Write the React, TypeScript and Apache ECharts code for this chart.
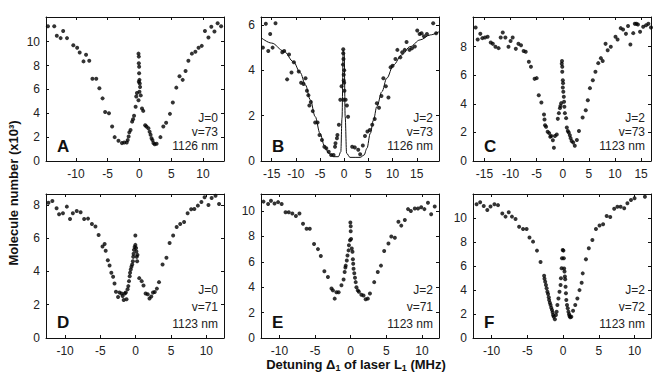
import React, { useEffect, useRef } from "react";
import * as echarts from "echarts";

// ---------- data (x = detuning MHz, y = molecule number x10^3) ----------
const dataA: number[][] = [
  [-14.4, 11.3], [-13.4, 11.3], [-13.0, 10.5], [-12.4, 10.3], [-12.0, 10.9], [-11.4, 10.3],
  [-10.4, 9.7], [-9.8, 9.5], [-9.4, 9.1], [-8.8, 8.35], [-8.4, 8.9], [-7.9, 8.4], [-7.4, 6.9],
  [-6.8, 6.9], [-6.3, 6.1], [-5.8, 5.25], [-5.4, 4.1], [-4.8, 4.0], [-4.3, 2.9], [-3.9, 2.0],
  [-3.3, 1.7], [-2.75, 1.5], [-2.4, 1.55], [-2.0, 1.55], [-1.85, 1.75], [-1.7, 2.05], [-1.6, 2.4],
  [-1.4, 2.6], [-1.15, 3.3], [-1.0, 3.5], [-0.85, 3.8], [-0.6, 4.55], [-0.5, 5.4], [-0.4, 5.7],
  [-0.15, 9.0], [-0.1, 8.75], [-0.1, 8.2], [-0.05, 7.9], [-0.05, 7.35], [0, 6.8], [-0.1, 6.65],
  [0.05, 6.5], [0.1, 6.2], [0, 5.8], [0.2, 5.5], [-0.15, 5.1], [0.4, 4.4], [0.6, 4.2], [0.9, 3.0],
  [1.1, 2.9], [1.4, 2.75], [1.6, 2.45], [1.75, 2.2], [1.9, 1.9], [2.05, 1.75], [2.2, 1.5],
  [2.4, 1.4], [2.7, 1.45], [3.3, 2.0], [3.75, 2.9], [4.2, 3.2], [4.8, 3.95], [5.25, 4.9],
  [5.8, 6.15], [6.3, 7.1], [6.8, 6.8], [7.25, 7.55], [7.7, 8.4], [8.25, 9.0], [8.8, 9.15],
  [9.3, 9.5], [9.8, 9.65], [10.3, 10.9], [10.85, 10.35], [11.3, 11.25], [11.8, 10.85],
  [12.3, 11.55], [12.85, 11.3],
];

const dataB: number[][] = [
  [-16.8, 5.0], [-16.2, 6.05], [-15.7, 4.85], [-15.3, 5.6], [-14.8, 5.0], [-14.2, 6.07],
  [-12.8, 4.8], [-12.4, 4.85], [-11.8, 3.6], [-11.4, 4.7], [-10.9, 3.9], [-10.4, 4.35],
  [-9.4, 3.95], [-8.9, 3.45], [-8.4, 3.4], [-8.0, 3.65], [-7.7, 3.1], [-7.4, 2.9], [-7.2, 2.45],
  [-6.9, 2.6], [-6.5, 2.2], [-6.0, 1.7], [-5.5, 1.7], [-5.1, 1.15], [-4.6, 0.93], [-4.1, 0.63],
  [-3.7, 0.56], [-3.2, 0.41], [-2.7, 0.26], [-2.2, 0.26], [-1.9, 0.63], [-1.8, 0.78],
  [-1.5, 1.0], [-1.4, 1.15], [-1.1, 1.6], [-0.8, 2.7], [-0.55, 3.3], [-0.2, 4.93], [-0.2, 4.75],
  [-0.15, 4.5], [-0.25, 4.25], [0, 4.0], [-0.1, 3.8], [-0.1, 3.55], [0, 3.45], [-0.1, 2.7],
  [0.05, 3.1], [0.3, 2.7], [0.55, 2.45], [0.8, 1.95], [1.65, 0.63], [2.2, 0.6], [2.9, 0.5],
  [3.3, 0.3], [3.85, 0.68], [4.3, 1.1], [4.8, 1.3], [5.3, 1.37], [5.8, 1.6], [6.3, 1.85],
  [6.75, 2.55], [7.2, 2.35], [7.7, 2.87], [8.1, 3.65], [8.6, 3.3], [9.15, 2.8], [9.6, 4.13],
  [10.0, 4.2], [10.6, 4.5], [11.0, 4.9], [11.6, 4.57], [12.0, 4.8], [12.5, 4.9], [12.9, 5.25],
  [13.5, 4.9], [14.0, 4.97], [14.6, 5.05], [15.1, 5.75], [15.6, 5.6], [16.0, 5.63], [16.5, 5.5],
  [17.1, 5.6], [18.4, 6.07], [19.0, 5.63],
];

const fitB: number[][] = [
  [-17.2, 5.44], [-15.0, 5.2], [-12.5, 4.85], [-10.5, 4.38], [-9.1, 3.9], [-8.0, 3.35],
  [-7.0, 2.7], [-6.0, 1.96], [-5.0, 1.22], [-4.1, 0.68], [-3.2, 0.34], [-2.2, 0.19],
  [-1.2, 0.19], [-0.7, 0.41], [-0.45, 1.9], [-0.2, 4.9], [0, 4.75], [0.2, 1.96], [0.5, 0.34],
  [1.2, 0.16], [3.3, 0.16], [4.1, 0.26], [4.7, 0.56], [5.4, 1.22], [6.05, 1.8], [6.75, 2.4],
  [7.8, 3.06], [8.8, 3.65], [10.2, 4.24], [11.9, 4.68], [13.6, 5.04], [15.7, 5.34],
  [17.8, 5.56], [19.6, 5.7],
];

const dataC: number[][] = [
  [-16.7, 9.35], [-16.3, 8.5], [-15.8, 8.9], [-15.4, 8.6], [-14.9, 8.65], [-14.4, 8.7],
  [-13.8, 8.3], [-13.4, 8.2], [-12.9, 8.0], [-12.3, 7.9], [-11.9, 8.65], [-11.5, 9.0],
  [-11.0, 8.65], [-10.4, 8.0], [-10.0, 8.4], [-9.6, 8.65], [-9.0, 7.85], [-8.5, 8.2],
  [-8.0, 8.1], [-7.5, 7.7], [-7.1, 7.65], [-6.5, 6.95], [-6.1, 6.6], [-5.4, 5.75], [-5.0, 5.8],
  [-4.6, 4.6], [-4.1, 4.1], [-3.6, 3.25], [-3.5, 2.9], [-3.4, 2.5], [-3.2, 2.4], [-2.9, 2.05],
  [-2.6, 1.95], [-2.4, 1.7], [-2.2, 1.75], [-1.9, 1.45], [-1.7, 0.93], [-1.5, 1.75],
  [-1.15, 1.85], [-0.95, 2.95], [-0.75, 3.35], [-0.55, 3.7], [-0.45, 3.85], [-0.3, 4.05],
  [-0.2, 6.8], [-0.15, 7.0], [-0.1, 6.6], [-0.1, 6.25], [0, 5.65], [0.05, 5.45], [0, 5.15],
  [0.1, 4.85], [0.2, 4.5], [0.25, 4.15], [0.3, 3.8], [0.4, 3.35], [0.64, 3.0], [0.77, 2.35],
  [0.96, 2.1], [1.15, 2.0], [1.35, 1.8], [1.5, 1.6], [1.7, 1.4], [2.0, 1.3], [2.3, 1.07],
  [2.7, 1.47], [3.1, 2.1], [3.8, 3.05], [4.4, 3.55], [4.8, 4.25], [5.2, 5.1], [5.75, 5.65],
  [6.25, 6.25], [6.8, 6.85], [7.3, 7.2], [7.65, 7.0], [8.2, 8.2], [8.6, 7.75], [9.2, 8.0],
  [10.1, 8.7], [10.5, 8.5], [11.1, 9.3], [11.55, 9.2], [12.1, 8.9], [12.5, 9.45], [12.95, 8.15],
  [13.5, 8.95], [13.8, 9.6], [14.1, 9.6], [14.4, 9.55], [14.8, 9.05], [15.4, 9.4], [15.95, 9.5],
  [16.4, 9.6], [16.9, 9.35],
];

const dataD: number[][] = [
  [-12.35, 8.14], [-11.8, 8.24], [-11.2, 7.8], [-10.85, 7.44], [-10.3, 7.5], [-9.75, 7.9],
  [-9.3, 7.16], [-8.9, 7.5], [-8.35, 7.64], [-7.8, 7.56], [-7.3, 7.16], [-6.75, 7.18],
  [-6.2, 6.85], [-5.7, 6.7], [-5.25, 6.2], [-4.7, 5.5], [-4.4, 5.65], [-4.25, 5.25],
  [-3.95, 4.68], [-3.7, 4.36], [-3.45, 3.92], [-3.2, 3.68], [-3.0, 3.28], [-2.8, 2.78],
  [-2.5, 2.47], [-2.3, 2.73], [-2.0, 2.67], [-1.85, 2.53], [-1.7, 2.29], [-1.55, 2.67],
  [-1.4, 2.73], [-1.3, 2.33], [-1.15, 2.93], [-1.05, 3.12], [-0.95, 3.42], [-0.85, 3.72],
  [-0.8, 3.92], [-0.7, 4.12], [-0.6, 4.28], [-0.5, 4.42], [-0.4, 4.62], [-0.35, 4.88],
  [-0.3, 5.07], [-0.25, 5.3], [-0.15, 5.47], [-0.05, 5.6], [-0.05, 6.17], [0.05, 5.41],
  [0.1, 5.2], [0.15, 4.88], [0.2, 4.62], [0.25, 5.0], [0.5, 3.6], [0.85, 3.42], [1.1, 3.16],
  [1.4, 2.67], [1.7, 2.63], [1.95, 2.37], [2.2, 2.49], [2.45, 2.73], [2.7, 2.77], [3.0, 2.97],
  [3.3, 3.36], [3.8, 4.42], [4.35, 4.82], [4.8, 5.71], [5.3, 6.17], [5.8, 6.67], [6.3, 6.85],
  [6.85, 6.97], [7.35, 7.5], [7.85, 7.74], [8.3, 7.76], [8.8, 7.96], [9.3, 8.18], [9.75, 8.46],
  [10.3, 8.0], [10.75, 8.42], [11.3, 8.56], [11.8, 8.06],
];

const dataE: number[][] = [
  [-12.25, 10.74], [-11.6, 10.55], [-11.2, 10.8], [-10.7, 10.6], [-10.2, 10.7], [-9.7, 10.55],
  [-9.15, 9.9], [-8.7, 9.9], [-8.2, 9.8], [-7.7, 9.6], [-7.2, 9.8], [-6.7, 9.0], [-6.2, 8.6],
  [-5.75, 8.6], [-5.15, 7.4], [-4.6, 7.0], [-4.2, 6.45], [-3.7, 5.25], [-3.2, 4.8], [-2.7, 3.9],
  [-2.5, 3.75], [-2.25, 3.1], [-2.0, 3.6], [-1.7, 3.6], [-1.3, 4.15], [-1.0, 4.6], [-0.85, 5.2],
  [-0.75, 5.55], [-0.7, 5.7], [-0.55, 6.1], [-0.45, 6.5], [-0.3, 6.9], [-0.25, 7.3],
  [-0.1, 7.7], [-0.05, 9.1], [0, 8.8], [0, 8.4], [0.05, 7.8], [0.15, 7.05], [0.25, 6.8],
  [0.3, 6.2], [0.35, 5.85], [0.4, 5.45], [0.5, 5.1], [0.6, 4.75], [0.7, 4.4], [0.8, 4.0],
  [1.0, 3.75], [1.15, 3.65], [1.5, 3.4], [1.8, 3.35], [2.1, 3.05], [2.4, 3.1], [2.7, 3.5],
  [3.3, 4.4], [3.8, 5.2], [4.25, 5.7], [4.7, 6.85], [5.3, 7.45], [5.7, 8.0], [6.2, 7.9],
  [6.7, 9.15], [7.1, 8.85], [7.6, 9.3], [8.05, 10.15], [8.45, 10.0], [9.0, 10.2], [9.45, 10.2],
  [9.9, 10.3], [10.35, 10.15], [10.85, 10.65], [11.3, 9.75], [11.8, 10.35],
];

const dataF: number[][] = [
  [-12.1, 11.17], [-11.6, 11.34], [-11.1, 11.03], [-10.6, 10.7], [-10.15, 10.98], [-9.6, 11.17],
  [-9.1, 11.1], [-8.5, 10.4], [-8.05, 10.14], [-7.6, 10.5], [-7.15, 10.14], [-6.65, 9.94],
  [-6.15, 9.3], [-5.6, 9.1], [-5.1, 9.1], [-4.7, 8.4], [-4.2, 8.05], [-3.65, 7.3], [-3.15, 6.35],
  [-2.65, 5.2], [-2.6, 4.95], [-2.5, 4.7], [-2.4, 4.43], [-2.3, 4.15], [-2.2, 3.87],
  [-2.1, 3.68], [-2.0, 3.4], [-1.95, 3.18], [-1.85, 2.95], [-1.75, 2.76], [-1.65, 2.53],
  [-1.55, 2.34], [-1.45, 2.14], [-1.4, 1.92], [-1.3, 1.78], [-1.15, 1.56], [-1.0, 1.92],
  [-0.9, 2.2], [-0.8, 2.76], [-0.65, 3.3], [-0.5, 3.87], [-0.35, 4.43], [-0.3, 5.0],
  [-0.2, 5.82], [-0.15, 6.66], [-0.05, 7.35], [0.05, 7.3], [0.1, 6.66], [0.15, 5.8], [0.2, 5.55],
  [0.25, 5.13], [0.3, 4.9], [0.35, 4.29], [0.4, 3.73], [0.45, 3.18], [0.55, 2.76], [0.65, 2.48],
  [0.75, 2.2], [0.85, 1.98], [0.9, 1.84], [1.0, 1.73], [1.15, 1.78], [1.4, 2.28], [1.7, 2.76],
  [2.0, 3.3], [2.3, 4.0], [2.6, 4.62], [2.75, 5.4], [3.2, 6.57], [3.6, 7.49], [4.1, 8.19],
  [4.6, 9.1], [5.1, 9.4], [5.6, 9.5], [6.1, 10.2], [6.6, 10.1], [7.15, 10.8], [7.6, 10.97],
  [8.05, 10.97], [8.55, 10.84], [9.0, 11.25], [9.5, 11.53], [10.0, 11.67], [11.45, 11.8],
];

// axis ranges [min, max]
const xRangeA = [-14.7, 13.3];
const xRangeB = [-17.2, 19.6];
const xRangeC = [-17.2, 16.9];
const xRangeD = [-12.7, 12.5];
const xRangeE = [-12.6, 12.4];
const xRangeF = [-12.6, 12.3];
const yRangeA = [0, 12.07];
const yRangeB = [0, 6.35];
const yRangeC = [0, 10.08];
const yRangeD = [0, 8.66];
const yRangeE = [0, 11.34];
const yRangeF = [0, 12.03];

// tick labels
const xTicksNarrow = [-10, -5, 0, 5, 10];
const xTicksWide = [-15, -10, -5, 0, 5, 10, 15];
const yTicksTo10 = [0, 2, 4, 6, 8, 10];
const yTicksTo6 = [0, 2, 4, 6];
const yTicksTo8 = [0, 2, 4, 6, 8];

const panelLetters = ["A", "B", "C", "D", "E", "F"];
const panelInfo = [
  ["J=0", "v=73", "1126 nm"],
  ["J=2", "v=73", "1126 nm"],
  ["J=2", "v=73", "1123 nm"],
  ["J=0", "v=71", "1123 nm"],
  ["J=2", "v=71", "1123 nm"],
  ["J=2", "v=72", "1123 nm"],
];
const yAxisTitle = "Molecule number (x10³)";

// ---------- layout ----------
const FONT = "'Liberation Sans', Arial, Helvetica, sans-serif";
const INK = "#111111";
const PW = 178;
const PH = 144;
const colLeft = [46, 261, 473];
const rowTop = [17, 194];

const panels = [
  { data: dataA, xr: xRangeA, yr: yRangeA, xt: xTicksNarrow, yt: yTicksTo10 },
  { data: dataB, xr: xRangeB, yr: yRangeB, xt: xTicksWide, yt: yTicksTo6, fit: fitB },
  { data: dataC, xr: xRangeC, yr: yRangeC, xt: xTicksWide, yt: yTicksTo8 },
  { data: dataD, xr: xRangeD, yr: yRangeD, xt: xTicksNarrow, yt: yTicksTo8 },
  { data: dataE, xr: xRangeE, yr: yRangeE, xt: xTicksNarrow, yt: yTicksTo10 },
  { data: dataF, xr: xRangeF, yr: yRangeF, xt: xTicksNarrow, yt: yTicksTo10 },
];

function buildOption() {
  const grid: any[] = [];
  const xAxis: any[] = [];
  const yAxis: any[] = [];
  const series: any[] = [];
  const graphic: any[] = [];

  panels.forEach((p, i) => {
    const left = colLeft[i % 3];
    const top = rowTop[Math.floor(i / 3)];
    grid.push({ left, top, width: PW, height: PH, containLabel: false });

    const mkAxis = (kind: "x" | "y", pos: string, main: boolean) => {
      const range = kind === "x" ? p.xr : p.yr;
      const ticks = kind === "x" ? p.xt : p.yt;
      return {
        type: "value",
        gridIndex: i,
        position: pos,
        min: range[0],
        max: range[1],
        axisLine: { show: true, onZero: false, lineStyle: { color: INK, width: 1 } },
        axisTick: { show: true, inside: true, length: 3, customValues: ticks, lineStyle: { color: INK, width: 1 } },
        axisLabel: {
          show: main,
          customValues: ticks,
          color: "#222",
          fontSize: 12,
          fontFamily: FONT,
          margin: kind === "x" ? 7 : 6,
        },
        splitLine: { show: false },
      };
    };
    xAxis.push(mkAxis("x", "bottom", true));
    xAxis.push(mkAxis("x", "top", false));
    yAxis.push(mkAxis("y", "left", true));
    yAxis.push(mkAxis("y", "right", false));

    series.push({
      type: "scatter",
      xAxisIndex: 2 * i,
      yAxisIndex: 2 * i,
      data: p.data,
      symbol: "circle",
      symbolSize: 4,
      itemStyle: { color: "#000" },
      silent: true,
    });
    if ((p as any).fit) {
      series.push({
        type: "line",
        xAxisIndex: 2 * i,
        yAxisIndex: 2 * i,
        data: (p as any).fit,
        showSymbol: false,
        smooth: 0.35,
        smoothMonotone: "x",
        lineStyle: { color: INK, width: 1 },
        silent: true,
      });
    }

    const bottom = top + PH;
    const isTop = i < 3;
    const infoY = isTop ? [bottom - 43, bottom - 29, bottom - 15] : [bottom - 48, bottom - 31, bottom - 14];
    panelInfo[i].forEach((t, k) => {
      graphic.push({
        type: "text",
        x: left + PW - 6,
        y: infoY[k],
        style: { text: t, fill: "#222", font: `12px ${FONT}`, align: "right", verticalAlign: "middle" },
      });
    });
    graphic.push({
      type: "text",
      x: left + 11,
      y: isTop ? bottom - 15 : bottom - 16,
      style: { text: panelLetters[i], fill: INK, font: `bold 17px ${FONT}`, align: "left", verticalAlign: "middle" },
    });
  });

  graphic.push({
    type: "text",
    x: 13,
    y: 193,
    rotation: Math.PI / 2,
    style: { text: yAxisTitle, fill: INK, font: `bold 13px ${FONT}`, align: "center", verticalAlign: "middle" },
  });
  graphic.push({
    type: "text",
    x: 356,
    y: 364,
    style: {
      text: "Detuning Δ{sub|1} of laser L{sub|1} (MHz)",
      fill: INK,
      font: `bold 13px ${FONT}`,
      align: "center",
      verticalAlign: "middle",
      lineHeight: 16,
      rich: {
        sub: { fontSize: 9, fontWeight: "bold", fontFamily: FONT, fill: INK, verticalAlign: "bottom", lineHeight: 9 },
      },
    },
  });

  return {
    animation: false,
    backgroundColor: "#ffffff",
    grid,
    xAxis,
    yAxis,
    series,
    graphic,
  };
}

export default function App() {
  const ref = useRef<HTMLDivElement>(null);
  useEffect(() => {
    if (!ref.current) return;
    const chart = echarts.init(ref.current, undefined, { renderer: "svg" });
    chart.setOption(buildOption() as any);
    return () => chart.dispose();
  }, []);
  return (
    <div
      ref={ref}
      style={{ position: "absolute", left: 0, top: 0, width: 654, height: 382, background: "#fff" }}
    />
  );
}
